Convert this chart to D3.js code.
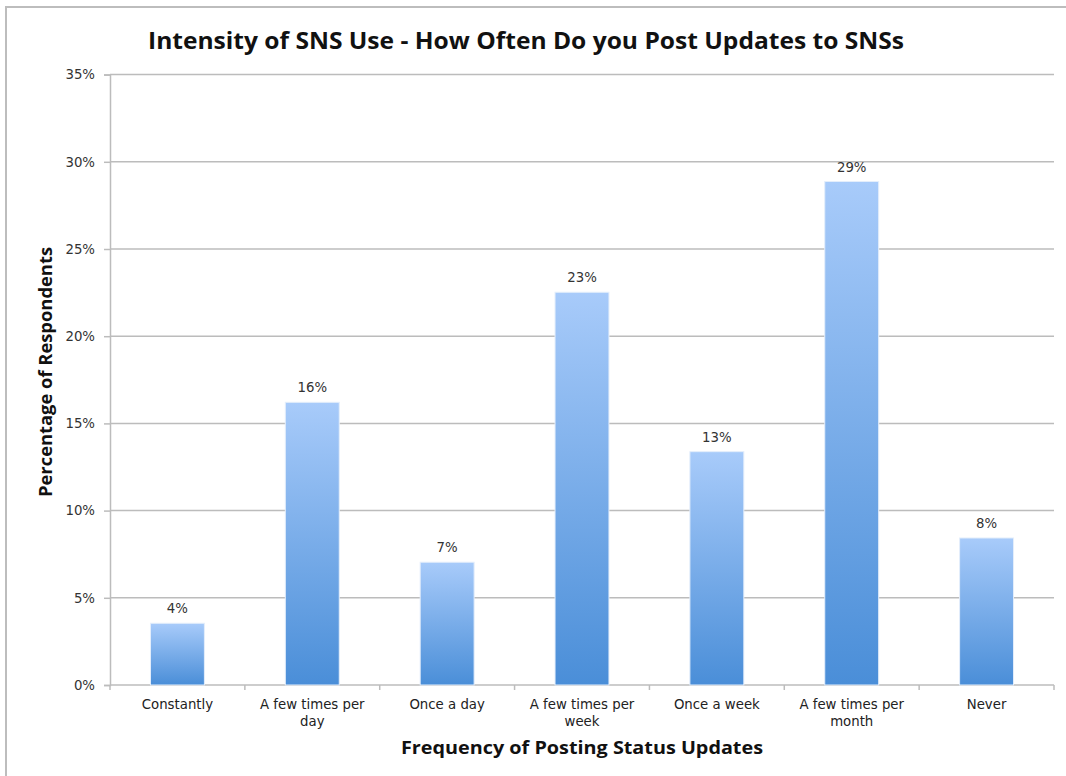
<!DOCTYPE html>
<html>
<head>
<meta charset="utf-8">
<script src="https://cdn.jsdelivr.net/npm/d3@7"></script>
<style>
  html, body { margin: 0; padding: 0; background: #fff; }
  svg { display: block; }
</style>
</head>
<body>
<svg id="chart" width="1066" height="776"></svg>
<script>
// Share of respondents by how often they post status updates
const categories = [
  ["Constantly"],
  ["A few times per", "day"],
  ["Once a day"],
  ["A few times per", "week"],
  ["Once a week"],
  ["A few times per", "month"],
  ["Never"]
];
const shares = [0.0354, 0.1621, 0.0704, 0.2252, 0.1338, 0.2887, 0.0843];
const yTicks = [0, 0.05, 0.10, 0.15, 0.20, 0.25, 0.30, 0.35];

const svg = d3.select("#chart");
const W = 1066, H = 776;
const margin = { left: 110, right: 12, top: 74.6, bottom: 91 };
const plotRight = W - margin.right;
const plotBottom = H - margin.bottom;
const labelFont = "'DejaVu Sans', Verdana, sans-serif";
const labelSize = "13.3px";
const titleFont = "'Open Sans', sans-serif";

const x = d3.scaleBand()
  .domain(categories.map((d, i) => i))
  .range([margin.left, plotRight])
  .paddingInner(0.6)
  .paddingOuter(0.3);

const y = d3.scaleLinear().domain([0, 0.35]).range([plotBottom, margin.top]);

// Outer frame of the chart panel
svg.append("path")
  .attr("d", `M6,${H} V7 H${W}`)
  .attr("fill", "none")
  .attr("stroke", "#bdbdbd")
  .attr("stroke-width", 2);

// Bar gradient: light blue at the top, deeper blue at the base
const defs = svg.append("defs");
const grad = defs.append("linearGradient")
  .attr("id", "barFill")
  .attr("x1", 0).attr("y1", 0).attr("x2", 0).attr("y2", 1);
grad.append("stop").attr("offset", "0%").attr("stop-color", "#a8cbfa");
grad.append("stop").attr("offset", "100%").attr("stop-color", "#4a8ed8");

// Horizontal gridlines
svg.append("g")
  .selectAll("line")
  .data(yTicks.slice(1))
  .join("line")
  .attr("x1", margin.left)
  .attr("x2", plotRight)
  .attr("y1", d => y(d))
  .attr("y2", d => y(d))
  .attr("stroke", "#bcbcbc")
  .attr("stroke-width", 1.5);

// Y axis
const yAxis = svg.append("g")
  .attr("transform", `translate(${margin.left},0)`)
  .call(d3.axisLeft(y).tickValues(yTicks).tickFormat(d3.format(".0%")).tickSize(6).tickPadding(9));
yAxis.select(".domain").attr("stroke", "#bcbcbc").attr("stroke-width", 1.5);
yAxis.selectAll(".tick line").attr("stroke", "#bcbcbc").attr("stroke-width", 1.5);
yAxis.selectAll(".tick text")
  .attr("fill", "#333")
  .style("font-family", labelFont)
  .style("font-size", labelSize);

// X axis with ticks at the band boundaries
const boundaries = d3.range(categories.length + 1).map(i => margin.left + i * (plotRight - margin.left) / categories.length);
const xAxisG = svg.append("g");
xAxisG.append("line")
  .attr("x1", margin.left).attr("x2", plotRight)
  .attr("y1", plotBottom).attr("y2", plotBottom)
  .attr("stroke", "#bcbcbc").attr("stroke-width", 1.5);
xAxisG.selectAll("line.tk")
  .data(boundaries)
  .join("line")
  .attr("class", "tk")
  .attr("x1", d => d).attr("x2", d => d)
  .attr("y1", plotBottom).attr("y2", plotBottom + 5)
  .attr("stroke", "#bcbcbc").attr("stroke-width", 1.5);

// Bars
svg.append("g")
  .selectAll("rect")
  .data(shares)
  .join("rect")
  .attr("x", (d, i) => x(i))
  .attr("width", x.bandwidth())
  .attr("y", d => y(d))
  .attr("height", d => y(0) - y(d))
  .attr("fill", "url(#barFill)")
  .attr("stroke", "#e4eefb")
  .attr("stroke-width", 1);

// Value labels
svg.append("g")
  .selectAll("text")
  .data(shares)
  .join("text")
  .attr("x", (d, i) => x(i) + x.bandwidth() / 2)
  .attr("y", d => y(d) - 10)
  .attr("text-anchor", "middle")
  .attr("fill", "#333")
  .style("font-family", labelFont)
  .style("font-size", labelSize)
  .text(d => d3.format(".0%")(d));

// Category labels
const catG = svg.append("g")
  .selectAll("text")
  .data(categories)
  .join("text")
  .attr("x", (d, i) => x(i) + x.bandwidth() / 2)
  .attr("y", plotBottom + 24)
  .attr("text-anchor", "middle")
  .attr("fill", "#222")
  .style("font-family", labelFont)
  .style("font-size", labelSize);
catG.selectAll("tspan")
  .data(d => d)
  .join("tspan")
  .attr("x", function () { return d3.select(this.parentNode).attr("x"); })
  .attr("dy", (d, i) => i === 0 ? 0 : 17)
  .text(d => d);

// Chart title
svg.append("text")
  .attr("x", 526)
  .attr("y", 49)
  .attr("text-anchor", "middle")
  .attr("fill", "#111")
  .attr("textLength", 756)
  .attr("lengthAdjust", "spacingAndGlyphs")
  .style("font-family", titleFont)
  .style("font-weight", "bold")
  .style("font-size", "23px")
  .text("Intensity of SNS Use - How Often Do you Post Updates to SNSs");

// Axis titles
svg.append("text")
  .attr("x", 582)
  .attr("y", 754)
  .attr("text-anchor", "middle")
  .attr("fill", "#111")
  .attr("textLength", 362)
  .attr("lengthAdjust", "spacingAndGlyphs")
  .style("font-family", titleFont)
  .style("font-weight", "bold")
  .style("font-size", "17px")
  .text("Frequency of Posting Status Updates");

svg.append("text")
  .attr("transform", "translate(52,372) rotate(-90)")
  .attr("text-anchor", "middle")
  .attr("fill", "#111")
  .attr("textLength", 250)
  .attr("lengthAdjust", "spacingAndGlyphs")
  .style("font-family", titleFont)
  .style("font-weight", "bold")
  .style("font-size", "17px")
  .text("Percentage of Respondents");
</script>
</body>
</html>
